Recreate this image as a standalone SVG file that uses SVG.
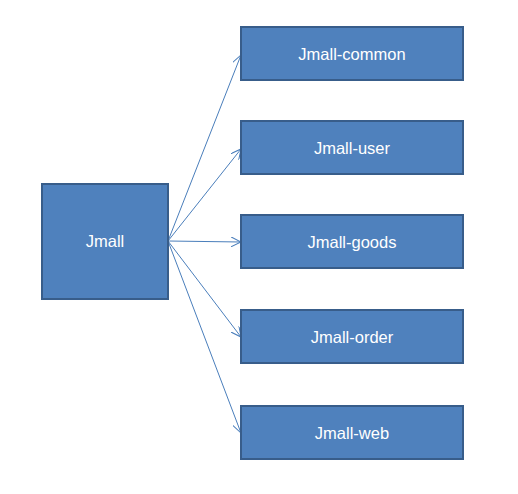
<svg xmlns="http://www.w3.org/2000/svg" width="518" height="494" viewBox="0 0 518 494">
<style>
.box{fill:#4F81BD;stroke:#385D8A;stroke-width:2}
.lbl{fill:#FFFFFF;font-family:"Liberation Sans",Arial,sans-serif;font-size:16.5px;text-anchor:middle;dominant-baseline:central}
.con{stroke:#4A7EBB;stroke-width:1;fill:none;marker-end:url(#arr)}
</style>
<defs>
<marker id="arr" viewBox="0 0 10 10" refX="10" refY="5" markerWidth="10" markerHeight="10" markerUnits="userSpaceOnUse" orient="auto">
<path d="M0,0 L10,5 L0,10" fill="none" stroke="#4A7EBB" stroke-width="1"/>
</marker>
</defs>
<rect width="518" height="494" fill="#FFFFFF"/>
<g id="connectors">
<line class="con" x1="168" y1="241" x2="241" y2="55"/>
<line class="con" x1="168" y1="241" x2="241" y2="149"/>
<line class="con" x1="168" y1="241" x2="241" y2="242"/>
<line class="con" x1="168" y1="241" x2="241" y2="337"/>
<line class="con" x1="168" y1="241" x2="241" y2="433"/>
</g>
<g id="jmall"><rect class="box" x="42" y="184" width="126" height="115"/><text class="lbl" x="105" y="241">Jmall</text></g>
<g id="jmall-common"><rect class="box" x="241" y="27" width="222" height="53"/><text class="lbl" x="352" y="54">Jmall-common</text></g>
<g id="jmall-user"><rect class="box" x="241" y="121" width="222" height="53"/><text class="lbl" x="352" y="148">Jmall-user</text></g>
<g id="jmall-goods"><rect class="box" x="241" y="215" width="222" height="53"/><text class="lbl" x="352" y="242">Jmall-goods</text></g>
<g id="jmall-order"><rect class="box" x="241" y="310" width="222" height="53"/><text class="lbl" x="352" y="337">Jmall-order</text></g>
<g id="jmall-web"><rect class="box" x="241" y="406" width="222" height="53"/><text class="lbl" x="352" y="433">Jmall-web</text></g>
</svg>
